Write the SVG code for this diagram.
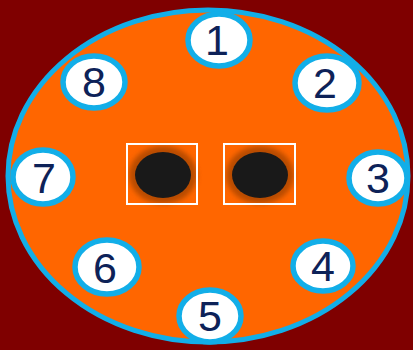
<svg xmlns="http://www.w3.org/2000/svg" width="413" height="350" viewBox="0 0 413 350">
<defs>
<style>
.pin{fill:#ffffff;stroke:#12aee8;stroke-width:5.5}
.num{font-family:"Liberation Sans",Arial,sans-serif;font-size:43px;fill:#0d2258;text-anchor:middle}
.sq{fill:none;stroke:#ffffff;stroke-width:2}
.halo{fill:#b84c00}
.hole{fill:#191919}
</style>
<filter id="blur" x="-30%" y="-30%" width="160%" height="160%"><feGaussianBlur stdDeviation="2.5"/></filter>
</defs>
<rect x="0" y="0" width="413" height="350" fill="#7f0000"/>
<g id="body">
<ellipse cx="208" cy="176" rx="200" ry="166" fill="#ff6600" stroke="#12aee8" stroke-width="5"/>
</g>
<g id="socket-left">
<ellipse class="halo" cx="163" cy="175" rx="34" ry="29" filter="url(#blur)"/>
<ellipse class="hole" cx="163" cy="175" rx="28" ry="23"/>
<rect class="sq" x="127" y="144" width="70" height="60"/>
</g>
<g id="socket-right">
<ellipse class="halo" cx="260" cy="175" rx="34" ry="29" filter="url(#blur)"/>
<ellipse class="hole" cx="260" cy="175" rx="28" ry="23"/>
<rect class="sq" x="224" y="144" width="71" height="60"/>
</g>
<g id="pin1"><ellipse class="pin" cx="219" cy="40" rx="31" ry="26"/><text class="num" x="217" y="55">1</text></g>
<g id="pin2"><ellipse class="pin" cx="327" cy="83" rx="32" ry="27"/><text class="num" x="325" y="98">2</text></g>
<g id="pin3"><ellipse class="pin" cx="378" cy="178" rx="29" ry="26"/><text class="num" x="378" y="193">3</text></g>
<g id="pin4"><ellipse class="pin" cx="323" cy="266" rx="30" ry="25"/><text class="num" x="323" y="281">4</text></g>
<g id="pin5"><ellipse class="pin" cx="210" cy="316" rx="31" ry="26"/><text class="num" x="210" y="331">5</text></g>
<g id="pin6"><ellipse class="pin" cx="107" cy="267" rx="32" ry="27"/><text class="num" x="105" y="283">6</text></g>
<g id="pin7"><ellipse class="pin" cx="43" cy="177" rx="30" ry="27"/><text class="num" x="44" y="193">7</text></g>
<g id="pin8"><ellipse class="pin" cx="94" cy="82" rx="31" ry="26"/><text class="num" x="94" y="97">8</text></g>
</svg>
